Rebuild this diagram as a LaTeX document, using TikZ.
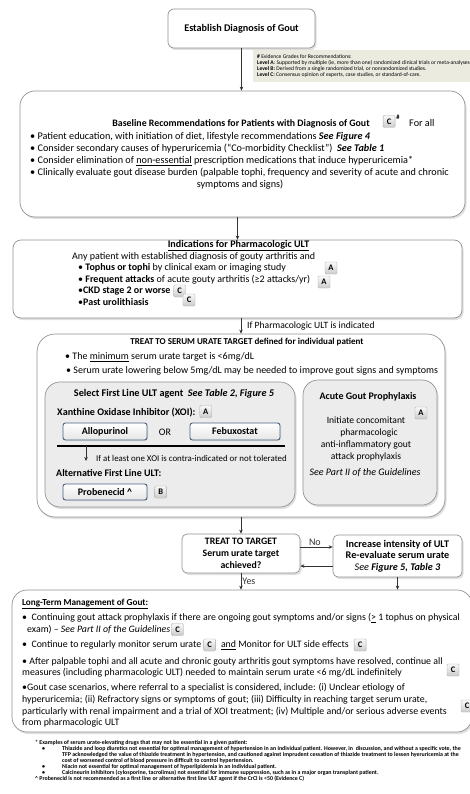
\documentclass[tikz,border=0pt]{standalone}
\usepackage{fontspec}
\setmainfont{Carlito}
\usetikzlibrary{arrows.meta, shadows, positioning}

\definecolor{drugblue}{RGB}{72,96,128}
\definecolor{notebg}{RGB}{236,235,224}
\definecolor{panelgray}{RGB}{236,236,236}

\tikzset{
  panel/.style={draw=gray!85, line width=0.7pt, fill=white, rounded corners=#1, inner sep=0pt,
    drop shadow={shadow xshift=1.5pt, shadow yshift=-2pt, fill=gray!50}},
  panel/.default=8pt,
  subpanel/.style={panel=#1, fill=panelgray},
  grade/.style={draw=gray!65, rounded corners=1.2pt, top color=gray!5, bottom color=gray!40,
    minimum width=12pt, minimum height=12pt, inner sep=0pt, font=\bfseries\fontsize{8.5}{9}\selectfont},
  drug/.style={draw=drugblue, line width=0.9pt, rounded corners=2.5pt, top color=white, bottom color=gray!20,
    inner sep=0pt, font=\bfseries\fontsize{10}{11}\selectfont,
    drop shadow={shadow xshift=1pt, shadow yshift=-1pt, fill=gray!40}},
  txt/.style={inner sep=0pt, font=\fontsize{10.2}{12}\selectfont},
  longtxt/.style={inner sep=0pt, anchor=west, align=left, font=\fontsize{9.85}{11.6}\selectfont},
  small/.style={inner sep=0pt, font=\fontsize{10}{11.5}\selectfont},
  foot/.style={anchor=west, inner sep=0pt, font=\bfseries\fontsize{5.9}{6}\selectfont},
  flow/.style={-{Stealth[length=4pt, width=3.5pt]}, line width=0.7pt, black!80}
}

\begin{document}
\begin{tikzpicture}[x=1pt, y=-1pt]
    \useasboundingbox (0,0) rectangle (469,794);

    % Establish diagnosis
    \node[panel=6pt, minimum width=147pt, minimum height=39pt, font=\bfseries\fontsize{10.2}{12}\selectfont] (diag) at (241.5,28.5) {Establish Diagnosis of Gout};

    % Evidence grades note
    \node[fill=notebg, minimum width=222pt, minimum height=32pt, inner sep=0pt] (note) at (364,66) {};
    \node[anchor=west, align=left, inner sep=0pt, font=\fontsize{5.6}{6}\selectfont] (notetext) at (257,66.5) {\textbf{\#} Evidence Grades for Recommendations:\\
      \textbf{Level A}: Supported by multiple (ie, more than one) randomized clinical trials or meta-analyses.\\
      \textbf{Level B:} Derived from a single randomized trial, or nonrandomized studies.\\
      \textbf{Level C:} Consensus opinion of experts, case studies, or standard-of-care.};

    % Baseline recommendations
    \node[panel=15pt, minimum width=445pt, minimum height=126pt] (base) at (242.5,154) {};
    \node[txt, font=\bfseries\fontsize{9.85}{12}\selectfont] (basetitle) at (241,124) {Baseline Recommendations for Patients with Diagnosis of Gout};
    \node[grade, right=13pt of basetitle, yshift=2.5pt] (gradeall) {C};
    \node[anchor=north west, inner sep=0pt, font=\bfseries\fontsize{6.5}{7}\selectfont] (hash) at ([xshift=0.8pt]gradeall.north east) {\#};
    \node[txt, anchor=west] (forall) at (409,123) {For all};
    \node[txt, anchor=west] (base1) at (30,137) {• Patient education, with initiation of diet, lifestyle recommendations \textbf{\textit{See Figure 4}}};
    \node[txt, anchor=west] (base2) at (30,149) {• Consider secondary causes of hyperuricemia (“Co-morbidity Checklist”)\ \ \textbf{\textit{See Table 1}}};
    \node[txt, anchor=west] (base3) at (30,161) {• Consider elimination of \underline{non-essential} prescription medications that induce hyperuricemia*};
    \node[txt, anchor=west] (base4) at (30,173) {• Clinically evaluate gout disease burden (palpable tophi, frequency and severity of acute and chronic};
    \node[txt] (base4b) at (240,185) {symptoms and signs)};

    % Indications for ULT
    \node[panel=8pt, minimum width=449pt, minimum height=78pt] (ind) at (237.5,279) {};
    \node[small, font=\bfseries\fontsize{10.1}{11}\selectfont] (indtitle) at (238.5,245.5) {\underline{Indications for Pharmacologic ULT}};
    \node[small, anchor=west] (indany) at (72,257) {Any patient with established diagnosis of gouty arthritis and};
    \node[small, anchor=west] (indtophus) at (78,268) {• \textbf{Tophus or tophi} by clinical exam or imaging study};
    \node[grade] (gradetophus) at (331,268) {A};
    \node[small, anchor=west] (indattack) at (78,279.5) {• \textbf{Frequent attacks} of acute gouty arthritis (≥2 attacks/yr)};
    \node[grade] (gradeattack) at (324,282) {A};
    \node[small, anchor=west] (indckd) at (78,291) {•\textbf{CKD stage 2 or worse}};
    \node[grade, right=3pt of indckd] (gradeckd) {C};
    \node[small, anchor=west] (indstone) at (78,302.5) {•\textbf{Past urolithiasis}};
    \node[grade] (gradestone) at (189,300) {C};

    \draw[flow] (diag.south) -- (diag.south |- base.north);
    \draw[flow] (ind.north |- base.south) -- (ind.north);

    % Treat to serum urate target
    \node[panel=18pt, minimum width=408pt, minimum height=183pt] (treat) at (241,425.5) {};
    \draw[flow] (treat.north |- ind.south) -- (treat.north);
    \node[small, anchor=west, font=\fontsize{9.6}{11}\selectfont] (iflabel) at (247,326) {If Pharmacologic ULT is indicated};
    \node[small, font=\bfseries\fontsize{9}{11}\selectfont] (treattitle) at (247,342) {TREAT TO SERUM URATE TARGET defined for individual patient};
    \node[small, anchor=west] (treat1) at (65,357) {• The \underline{minimum} serum urate target is <6mg/dL};
    \node[small, anchor=west] (treat2) at (66,370.5) {• Serum urate lowering below 5mg/dL may be needed to improve gout signs and symptoms};

    % Select first line agent
    \node[subpanel=15pt, minimum width=250pt, minimum height=125pt] (sel) at (170,444.5) {};
    \node[small, font=\fontsize{10.2}{12}\selectfont] (seltitle) at (174,394) {\textbf{Select First Line ULT agent}\ \ \textbf{\textit{See Table 2, Figure 5}}};
    \node[small, anchor=west, font=\bfseries\fontsize{10.1}{11}\selectfont] (xoi) at (57,413) {Xanthine Oxidase Inhibitor (XOI):};
    \node[grade, right=4pt of xoi, yshift=1.5pt] (gradexoi) {A};
    \node[drug, minimum width=84pt, minimum height=17pt] (allo) at (105,431.5) {Allopurinol};
    \node[small] (or) at (165,432) {OR};
    \node[drug, minimum width=90pt, minimum height=17pt] (febu) at (235,431.5) {Febuxostat};
    \coordinate (barleft) at (57,446);
    \coordinate (barright) at (285,446);
    \coordinate (barsplit) at (86,446);
    \coordinate (altin) at (86,461);
    \draw[line width=2pt] (barleft) -- (barright);
    \draw[flow] (barsplit) -- (altin);
    \node[inner sep=0pt, anchor=west, font=\fontsize{8.85}{10}\selectfont] (ifxoi) at (96,458) {If at least one XOI is contra-indicated or not tolerated};
    \node[small, anchor=west, font=\bfseries\fontsize{10}{11}\selectfont] (alt) at (56,473) {Alternative First Line ULT:};
    \node[drug, minimum width=84pt, minimum height=16pt] (prob) at (105,492) {Probenecid \textasciicircum};
    \node[grade, right=7pt of prob] (gradeprob) {B};

    % Acute gout prophylaxis
    \node[subpanel=15pt, minimum width=134pt, minimum height=125pt] (proph) at (370,442.5) {};
    \node[small, font=\bfseries\fontsize{10}{11}\selectfont] (prophtitle) at (368,397) {Acute Gout Prophylaxis};
    \node[grade] (gradeproph) at (421,413) {A};
    \node[small, align=center, font=\fontsize{9.6}{12}\selectfont] (prophtext) at (366,439) {Initiate concomitant\\ \hspace{6pt}pharmacologic\\ anti-inflammatory gout\\ attack prophylaxis};
    \node[small, font=\itshape\fontsize{10}{11}\selectfont] (prophsee) at (365,473) {See Part II of the Guidelines};

    % Treat to target loop
    \node[panel=5pt, minimum width=118pt, minimum height=39pt, align=center, font=\bfseries\fontsize{9.8}{12}\selectfont] (target) at (241,553.5) {TREAT TO TARGET\\ Serum urate target\\ achieved?};
    \node[panel=5pt, minimum width=129pt, minimum height=42pt, align=center, font=\fontsize{10.2}{11.5}\selectfont] (inc) at (397.5,556) {\textbf{Increase intensity of ULT}\\ \textbf{Re-evaluate serum urate}\\ \textit{See \textbf{Figure 5, Table 3}}};
    \draw[flow] (treat.south) -- (target.north);
    \draw[flow] ([yshift=6.5pt]target.east) -- ([yshift=6.5pt]target.east -| inc.west) node[pos=0.45, above=1pt, small] {No};
    \draw[flow] ([yshift=-10pt]inc.west) -- ([yshift=-10pt]inc.west -| target.east);

    % Long-term management
    \node[panel=15pt, minimum width=460pt, minimum height=142pt] (lt) at (242,661) {};
    \draw[flow] (target.south) -- (target.south |- lt.north) node[midway, right=1pt, small] {Yes};
    \draw[flow] (inc.south) -- (inc.south |- lt.north);
    \node[txt, anchor=west, font=\bfseries\fontsize{9.2}{11}\selectfont] (lttitle) at (22,604) {\underline{Long-Term Management of Gout:}};
    \node[longtxt] (lt1) at (22,618) {•\ \ Continuing gout attack prophylaxis if there are ongoing gout symptoms and/or signs (\underline{>} 1 tophus on physical};
    \node[longtxt] (lt1b) at (27,629.5) {exam) – \textit{See Part II of the Guidelines}};
    \node[grade, right=1pt of lt1b] (gradelt1) {C};
    \node[longtxt] (lt2) at (22,645) {•\ \ Continue to regularly monitor serum urate};
    \node[grade, right=2pt of lt2] (gradelt2) {C};
    \node[longtxt, right=5pt of gradelt2] (lt2b) {\underline{and} Monitor for ULT side effects};
    \node[grade, right=5pt of lt2b] (gradelt3) {C};
    \node[longtxt] (lt3) at (22,667.5) {• After palpable tophi and all acute and chronic gouty arthritis gout symptoms have resolved, continue all\\ measures (including pharmacologic ULT) needed to maintain serum urate <6 mg/dL indefinitely};
    \node[grade] (gradelt4) at (453,670) {C};
    \node[longtxt] (lt4) at (22,705.5) {•Gout case scenarios, where referral to a specialist is considered, include: (i) Unclear etiology of\\ hyperuricemia; (ii) Refractory signs or symptoms of gout; (iii) Difficulty in reaching target serum urate,\\ particularly with renal impairment and a trial of XOI treatment; (iv) Multiple and/or serious adverse events\\ from pharmacologic ULT};
    \node[grade] (gradelt5) at (467,706) {C};

    % Footnotes
    \node[foot] (fnhead) at (35,743) {* Examples of serum urate-elevating drugs that may not be essential in a given patient:};
    \node[foot] (fnbulleta) at (42,749) {•};
    \node[foot, align=left] (fnthiazide) at (62,755) {Thiazide and loop diuretics not essential for optimal management of hypertension in an individual patient. However, in\ \ discussion, and without a specific vote, the\\ TFP acknowledged the value of thiazide treatment in hypertension, and cautioned against imprudent cessation of thiazide treatment to lessen hyeruricemia at the\\ cost of worsened control of blood pressure in difficult to control hypertension.};
    \node[foot] (fnbulletb) at (42,767) {•};
    \node[foot] (fnniacin) at (62,767) {Niacin not essential for optimal management of hyperlipidemia in an individual patient.};
    \node[foot] (fnbulletc) at (42,773) {•};
    \node[foot] (fncalci) at (62,773) {Calcineurin inhibitors (cylosporine, tacrolimus) not essential for immune suppression, such as in a major organ transplant patient.};
    \node[foot] (fnprob) at (35,779) {\textasciicircum\ Probenecid is not recommended as a first line or alternative first line ULT agent if the CrCl is <50 (Evidence C)};

\end{tikzpicture}
\end{document}
